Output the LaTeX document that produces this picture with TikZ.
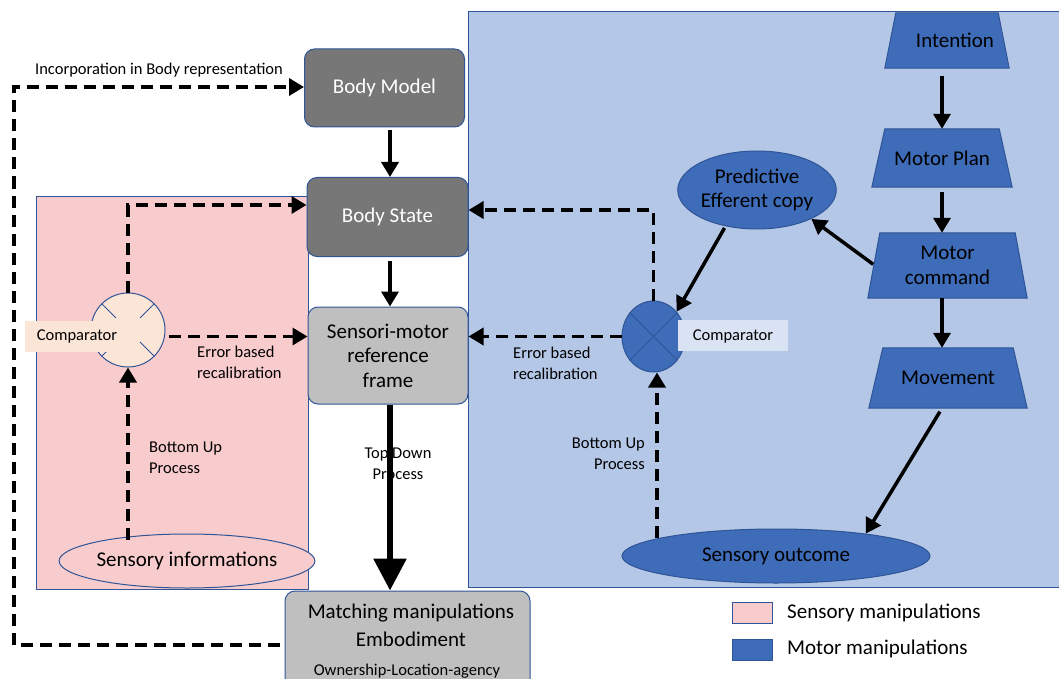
\documentclass[tikz,border=0pt]{standalone}
\usepackage{fontspec}
\setmainfont{Carlito}
\usetikzlibrary{shapes.geometric,arrows.meta}
\definecolor{pinkf}{RGB}{248,203,205}
\definecolor{bluebg}{RGB}{180,199,231}
\definecolor{dblue}{RGB}{62,108,184}
\definecolor{bordc}{RGB}{47,85,151}
\definecolor{dgray}{RGB}{119,119,119}
\definecolor{lgray}{RGB}{191,191,191}
\definecolor{peach}{RGB}{251,229,214}
\definecolor{lblue}{RGB}{218,227,243}
\newcommand{\bigf}{\fontsize{21}{24.5}\selectfont}
\newcommand{\smf}{\fontsize{16.5}{21}\selectfont}
\pgfdeclarelayer{bgzero}
\pgfdeclarelayer{bgone}
\pgfsetlayers{bgzero,bgone,main}
\tikzset{
  gbox/.style={draw=bordc, line width=1pt, rounded corners=10pt, inner sep=0pt, font=\bigf, align=center},
  trapbox/.style={rectangle, inner sep=0pt, font=\bigf, align=center},
  trapfill/.style={fill=dblue, draw=bordc, line width=1pt},
  ell/.style={ellipse, draw=bordc, line width=1pt, inner sep=0pt, font=\bigf, align=center},
  lbl/.style={font=\smf, inner sep=0pt},
  solidarr/.style={line width=3.5pt, -{Triangle[length=15pt,width=17pt]}},
  dasharr/.style={line width=3.5pt, dash pattern=on 12pt off 7pt, -{Triangle[length=15pt,width=17pt]}},
}
\newcommand{\trapdraw}[2]{%
  \begin{pgfonlayer}{bgone}
  \path[trapfill] ([xshift=#2]#1.north west) -- ([xshift=-#2]#1.north east) -- (#1.south east) -- (#1.south west) -- cycle;
  \end{pgfonlayer}}
\begin{document}
\begin{tikzpicture}[x=1pt,y=-1pt]
\useasboundingbox (0,0) rectangle (1059,679);
% backgrounds
\begin{pgfonlayer}{bgzero}
\path[fill=pinkf, draw=bordc, line width=1pt] (36,196) rectangle (308,589);
\path[fill=bluebg, draw=bordc, line width=1pt] (468,12) rectangle (1066,587);
\end{pgfonlayer}

% left column boxes
\node[gbox, fill=dgray, text=white, minimum width=160pt, minimum height=78pt] (bodymodel) at (384.5,88) {Body Model};
\node[gbox, fill=dgray, text=white, minimum width=161pt, minimum height=79pt] (bodystate) at (387.5,217) {Body State};
\node[gbox, fill=lgray, minimum width=160pt, minimum height=97pt] (sensori) at (388,355.5) {Sensori-motor\\reference\\frame};
\node[gbox, fill=lgray, minimum width=245pt, minimum height=100pt] (matching) at (407.5,641) {};
\node[font=\bigf, inner sep=0pt] (mt1) at (411,613) {Matching manipulations};
\node[font=\bigf, inner sep=0pt] (mt2) at (411,639) {Embodiment};
\node[lbl] (mt3) at (407,671) {Ownership-Location-agency};

% sensory informations
\node[ell, fill=pinkf, minimum width=252pt, minimum height=54pt] (sinfo) at (187,561) {Sensory informations};

% left comparator
\node[circle, draw=bordc, line width=1pt, fill=peach, minimum size=74pt, inner sep=0pt] (lcomp) at (128,330) {};
\foreach \a in {45,135,225,315} \draw[bordc, line width=1pt] (lcomp.center) ++(\a:17) -- ++(\a:20);
\node[fill=peach, minimum width=93pt, minimum height=31pt, inner sep=0pt] (lclbl) at (71.5,336.5) {};
\node[lbl] (lctext) at (77,336) {Comparator};

% right side (trapezia)
\node[trapbox, minimum width=124pt, minimum height=55pt] (intention) at (947,40.5) {\hspace*{16pt}Intention};
\trapdraw{intention}{11pt}
\node[trapbox, minimum width=140pt, minimum height=58pt] (mplan) at (942,158) {Motor Plan};
\trapdraw{mplan}{13pt}
\node[trapbox, minimum width=159pt, minimum height=65pt] (mcmd) at (947.5,265.5) {Motor\\command};
\trapdraw{mcmd}{12pt}
\node[trapbox, minimum width=158pt, minimum height=60pt] (move) at (948,378) {Movement};
\trapdraw{move}{14pt}

\node[ell, fill=dblue, minimum width=157pt, minimum height=78pt] (pred) at (757,190) {Predictive\\Efferent copy};
\node[ell, fill=dblue, minimum width=308pt, minimum height=54pt] (soutcome) at (776,556) {Sensory outcome};

\node[ellipse, draw=bordc, line width=1pt, fill=dblue, minimum width=63pt, minimum height=71pt, inner sep=0pt] (rcomp) at (653.5,336.5) {};
\draw[bordc, line width=1pt] (rcomp.45) -- (rcomp.-135);
\draw[bordc, line width=1pt] (rcomp.135) -- (rcomp.-45);
\node[fill=lblue, minimum width=110pt, minimum height=31pt, inner sep=0pt] (rclbl) at (733,335.5) {};
\node[lbl] (rctext) at (733,336) {Comparator};

% labels
\node[lbl, anchor=south] (incl) at (159,77) {Incorporation in Body representation};
\node[lbl, anchor=west, align=left] (err1) at (197,362) {Error based\\recalibration};
\node[lbl, anchor=west, align=left] (err2) at (513,363) {Error based\\recalibration};
\node[lbl, anchor=west, align=left] (bu1) at (149,458) {Bottom Up\\Process};
\node[lbl, anchor=east, align=right] (bu2) at (645,454) {Bottom Up\\Process};
\node[lbl, align=center] (td) at (398,464) {Top Down\\Process};

% legend
\node[draw=bordc, line width=1pt, fill=pinkf, minimum width=40pt, minimum height=21pt, inner sep=0pt] (leg1) at (752,612.5) {};
\node[draw=bordc, line width=1pt, fill=dblue, minimum width=40pt, minimum height=21pt, inner sep=0pt] (leg2) at (752,649.5) {};
\node[font=\bigf, anchor=west, inner sep=0pt] (leg1t) at (787,613) {Sensory manipulations};
\node[font=\bigf, anchor=west, inner sep=0pt] (leg2t) at (787,649) {Motor manipulations};

% solid arrows
\draw[solidarr, shorten <=3pt] (bodymodel.south -| 390,0) -- (bodystate.north -| 390,0);
\draw[solidarr, shorten <=4pt] (bodystate.south -| 390,0) -- (sensori.north -| 390,0);
\draw[line width=6pt, -{Triangle[length=32pt,width=32pt]}] (sensori.south -| 390,0) -- (matching.north -| 390,0);
\draw[solidarr, shorten <=8pt] (intention.south -| mplan.north) -- (mplan.north);
\draw[solidarr, shorten <=5pt] (mplan.south) -- (mplan.south |- mcmd.north);
\draw[solidarr] (mcmd.south -| mplan.south) -- (move.north -| mplan.south);
\draw[solidarr, shorten <=4pt] ([xshift=-6pt]move.south) -- (soutcome.14);
\draw[solidarr, shorten <=2pt] ([xshift=7pt]mcmd.west) -- (pred.-28);
\draw[solidarr, shorten <=2pt] (pred.-131) -- (rcomp.47);

% dashed arrows
\draw[dasharr] (lcomp.north) |- ([yshift=12pt]bodystate.west);
\draw[dasharr, shorten <=4pt] (lcomp.-10) -- (lcomp.-10 -| sensori.west);
\draw[dasharr] ([yshift=-6pt]lcomp.south |- sinfo.north) -- (lcomp.south);
\draw[dasharr] (rcomp.north) |- ([yshift=7pt]bodystate.east);
\draw[dasharr] (rcomp.west) -- (rcomp.west -| sensori.east);
\draw[dasharr] ([yshift=-9pt]soutcome.north -| 657,0) -- (rcomp.south -| 657,0);
\coordinate (c1) at (14,645);
\coordinate (c2) at (14,87);
\draw[dasharr, shorten <=5pt] (matching.west |- c1) -- (c1) -- (c2) -- (c2 -| bodymodel.west);
\end{tikzpicture}
\end{document}
